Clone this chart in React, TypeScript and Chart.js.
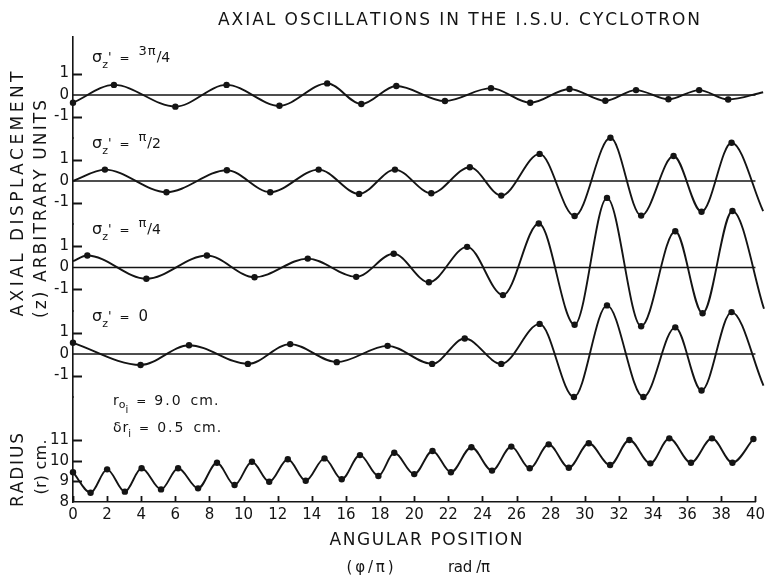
import React, { useEffect, useRef } from 'react';
import { Chart, registerables } from 'chart.js';

Chart.register(...registerables);

const FONT = "'DejaVu Sans', 'Liberation Sans', sans-serif";
const INK = '#141414';

// ---- texts ----
const TITLE = 'AXIAL OSCILLATIONS IN THE I.S.U. CYCLOTRON';
const Y_TITLE_1 = 'AXIAL DISPLACEMENT';
const Y_TITLE_2 = '(z) ARBITRARY UNITS';
const R_TITLE_1 = 'RADIUS';
const R_TITLE_2 = '(r) cm.';
const X_TITLE = 'ANGULAR POSITION';
const X_UNITS_1 = '(φ/π)';
const X_UNITS_2 = 'rad /π';
const SIGMA_LABELS = ['3π/4', 'π/2', 'π/4', '0'];
const R0_VALUE = '9.0';
const DR_VALUE = '0.5';
const UNIT_CM = 'cm.';

// ---- ticks ----
const X_TICKS = [0, 2, 4, 6, 8, 10, 12, 14, 16, 18, 20, 22, 24, 26, 28, 30, 32, 34, 36, 38, 40];
const AXIAL_TICKS = [-1, 0, 1];
const RADIUS_TICKS = [8, 9, 10, 11];

// ---- data: sigma_z' = 3π/4 ----
const PHI_A = [0, 2.4, 6.0, 9.0, 12.1, 14.9, 16.9, 18.95, 21.8, 24.5, 26.8, 29.1, 31.2, 33.0, 34.9, 36.7, 38.4, 40.45];
const Z_A = [-0.36, 0.47, -0.54, 0.47, -0.5, 0.54, -0.42, 0.42, -0.28, 0.32, -0.36, 0.28, -0.27, 0.23, -0.2, 0.23, -0.21, 0.13];

// ---- data: sigma_z' = π/2 ----
const PHI_B = [0, 1.87, 5.48, 9.02, 11.56, 14.4, 16.77, 18.87, 21.0, 23.26, 25.1, 27.35, 29.4, 31.5, 33.3, 35.2, 36.84, 38.6, 40.45];
const Z_B = [0, 0.53, -0.52, 0.5, -0.52, 0.53, -0.6, 0.53, -0.57, 0.64, -0.68, 1.26, -1.63, 2.01, -1.61, 1.16, -1.43, 1.78, -1.4];

// ---- data: sigma_z' = π/4 ----
const PHI_C = [0, 0.84, 4.3, 7.85, 10.64, 13.76, 16.6, 18.8, 20.86, 23.1, 25.2, 27.3, 29.4, 31.3, 33.3, 35.3, 36.9, 38.65, 40.5];
const Z_C = [0.29, 0.55, -0.52, 0.55, -0.45, 0.41, -0.43, 0.63, -0.68, 0.95, -1.27, 2.02, -2.63, 3.2, -2.7, 1.67, -2.1, 2.6, -1.9];

// ---- data: sigma_z' = 0 ----
const PHI_D = [0, 3.96, 6.8, 10.25, 12.73, 15.46, 18.44, 21.05, 22.96, 25.1, 27.35, 29.36, 31.3, 33.43, 35.3, 36.84, 38.6, 40.47];
const Z_D = [0.52, -0.51, 0.41, -0.46, 0.46, -0.38, 0.38, -0.46, 0.72, -0.46, 1.4, -2.0, 2.26, -2.0, 1.24, -1.7, 1.95, -1.47];

// ---- data: radius ----
const PHI_R = [0, 1.03, 2.0, 3.04, 4.02, 5.16, 6.16, 7.33, 8.44, 9.47, 10.49, 11.5, 12.59, 13.64, 14.74, 15.75, 16.82, 17.9, 18.83, 20.0, 21.07, 22.15, 23.35, 24.56, 25.69, 26.77, 27.88, 29.06, 30.23, 31.48, 32.61, 33.84, 34.95, 36.22, 37.45, 38.65, 39.88];
const R_VALUES = [9.44, 8.45, 9.58, 8.5, 9.63, 8.61, 9.63, 8.66, 9.9, 8.82, 9.95, 8.98, 10.07, 9.03, 10.11, 9.1, 10.27, 9.26, 10.38, 9.35, 10.47, 9.44, 10.65, 9.52, 10.68, 9.63, 10.79, 9.66, 10.84, 9.79, 11.0, 9.87, 11.08, 9.9, 11.08, 9.9, 11.05];

const toPoints = (xs: number[], ys: number[]) => xs.map((x, i) => ({ x, y: ys[i] }));

// panels listed top to bottom
const PANELS = [
  { id: 'y1', axial: true, weight: 101, min: -2, max: 2.7, phi: PHI_A, vals: Z_A, label: SIGMA_LABELS[0], startDot: true },
  { id: 'y2', axial: true, weight: 86, min: -2, max: 2, phi: PHI_B, vals: Z_B, label: SIGMA_LABELS[1], startDot: false },
  { id: 'y3', axial: true, weight: 87, min: -2, max: 2, phi: PHI_C, vals: Z_C, label: SIGMA_LABELS[2], startDot: false },
  { id: 'y4', axial: true, weight: 86, min: -2, max: 2, phi: PHI_D, vals: Z_D, label: SIGMA_LABELS[3], startDot: true },
  { id: 'yR', axial: false, weight: 105, min: 8, max: 13.08, phi: PHI_R, vals: R_VALUES, label: '', startDot: true },
];

type Run = { t: string; size: number; dy?: number; gap?: number; ls?: number };

function drawRuns(ctx: CanvasRenderingContext2D, x0: number, y0: number, runs: Run[]) {
  let x = x0;
  ctx.textAlign = 'left';
  ctx.textBaseline = 'alphabetic';
  for (const r of runs) {
    ctx.font = `${r.size}px ${FONT}`;
    const ls = r.ls || 0;
    for (const c of Array.from(r.t)) {
      ctx.fillText(c, x, y0 + (r.dy || 0));
      x += ctx.measureText(c).width + ls;
    }
    x += r.gap || 0;
  }
}

function drawFitted(ctx: CanvasRenderingContext2D, text: string, cx: number, cy: number, length: number, size: number, vertical: boolean) {
  ctx.save();
  ctx.font = `${size}px ${FONT}`;
  ctx.textAlign = 'left';
  ctx.textBaseline = 'alphabetic';
  const chars = Array.from(text);
  const widths = chars.map((c) => ctx.measureText(c).width);
  const total = widths.reduce((a, b) => a + b, 0);
  const gap = chars.length > 1 ? (length - total) / (chars.length - 1) : 0;
  ctx.translate(cx, cy);
  if (vertical) ctx.rotate(-Math.PI / 2);
  const base = vertical ? (size * 0.729) / 2 : 0;
  let x = -length / 2;
  chars.forEach((c, i) => {
    ctx.fillText(c, x, base);
    x += widths[i] + gap;
  });
  ctx.restore();
}

function sigmaRuns(value: string): Run[] {
  const runs: Run[] = [
    { t: 'σ', size: 16 },
    { t: 'z', size: 11, dy: 6 },
    { t: "'", size: 13, dy: -1, gap: 8 },
    { t: '=', size: 12, gap: 9 },
  ];
  const parts = value.split('/');
  if (parts.length === 2) {
    runs.push({ t: parts[0], size: 13, dy: -7, ls: 1 }, { t: '/', size: 14, dy: -1 }, { t: parts[1], size: 14 });
  } else {
    runs.push({ t: value, size: 15 });
  }
  return runs;
}

function drawTickMarks(ctx: CanvasRenderingContext2D, chart: any) {
  const { chartArea, scales } = chart;
  const left = chartArea.left;
  const bottom = chartArea.bottom;
  ctx.save();
  ctx.setLineDash([]);
  ctx.strokeStyle = INK;
  ctx.lineWidth = 1.8;
  ctx.beginPath();
  for (const p of PANELS) {
    const s = scales[p.id];
    const vals = p.axial ? AXIAL_TICKS : RADIUS_TICKS;
    for (const v of vals) {
      if (p.axial && v === 0) continue;
      if (!p.axial && v === RADIUS_TICKS[0]) continue;
      const py = Math.round(s.getPixelForValue(v)) + 0.5;
      ctx.moveTo(left, py);
      ctx.lineTo(left + 9, py);
    }
  }
  const xs = scales.x;
  for (const v of X_TICKS) {
    const px = Math.round(xs.getPixelForValue(v)) + 0.5;
    ctx.moveTo(px, bottom);
    ctx.lineTo(px, bottom - 6);
  }
  ctx.stroke();
  ctx.restore();
}

const decorPlugin = {
  id: 'decor',
  afterDraw(chart: any) {
    const { ctx, chartArea, scales } = chart;
    const { left, top } = chartArea;
    drawTickMarks(ctx, chart);
    ctx.save();
    ctx.fillStyle = INK;
    // titles
    drawFitted(ctx, TITLE, 459, 25, 482, 17, false);
    drawFitted(ctx, Y_TITLE_1, 17, 194, 245, 17, true);
    drawFitted(ctx, Y_TITLE_2, 40, 209, 218, 17, true);
    drawFitted(ctx, R_TITLE_1, 17, 470, 74, 17, true);
    drawFitted(ctx, R_TITLE_2, 40, 467, 55, 16, true);
    drawFitted(ctx, X_TITLE, 426, 545, 193, 17, false);
    drawFitted(ctx, X_UNITS_1, 370, 572, 47, 15, false);
    drawFitted(ctx, X_UNITS_2, 469, 572, 42, 15, false);
    // panel labels
    for (const p of PANELS) {
      if (!p.axial) continue;
      const s = scales[p.id];
      drawRuns(ctx, left + 19, s.getPixelForValue(1.53), sigmaRuns(p.label));
    }
    drawRuns(ctx, left + 40, top + 368, [
      { t: 'r', size: 14 },
      { t: 'o', size: 11, dy: 3 },
      { t: 'i', size: 10, dy: 8, gap: 8 },
      { t: '=', size: 12, gap: 8 },
      { t: R0_VALUE, size: 14, ls: 2, gap: 8 },
      { t: UNIT_CM, size: 14, ls: 1 },
    ]);
    drawRuns(ctx, left + 40, top + 395, [
      { t: 'δ', size: 14, gap: 1 },
      { t: 'r', size: 14 },
      { t: 'i', size: 10, dy: 5, gap: 8 },
      { t: '=', size: 12, gap: 8 },
      { t: DR_VALUE, size: 14, ls: 2, gap: 8 },
      { t: UNIT_CM, size: 14, ls: 1 },
    ]);
    ctx.restore();
  },
};

export default function App() {
  const ref = useRef<HTMLCanvasElement | null>(null);

  useEffect(() => {
    if (!ref.current) return;
    Chart.defaults.font.family = FONT;
    Chart.defaults.color = INK;

    const datasets: any[] = [];
    for (const p of PANELS) {
      if (p.axial) {
        datasets.push({
          data: [{ x: X_TICKS[0], y: 0 }, { x: X_TICKS[X_TICKS.length - 1], y: 0 }],
          yAxisID: p.id,
          borderColor: INK,
          borderWidth: 1.3,
          pointRadius: 0,
          clip: false,
        });
      }
      const startDot = p.startDot;
      datasets.push({
        data: toPoints(p.phi, p.vals),
        yAxisID: p.id,
        borderColor: INK,
        borderWidth: 1.9,
        cubicInterpolationMode: 'monotone',
        pointRadius: (c: any) => (c.dataIndex === 0 && !startDot ? 0 : 3.2),
        pointHoverRadius: 3.2,
        pointBorderWidth: 0,
        pointBackgroundColor: INK,
        clip: false,
      });
    }

    const scales: any = {
      x: {
        type: 'linear',
        min: 0,
        max: 40,
        grid: { display: false, drawTicks: false },
        border: { display: true, color: INK, width: 1.6 },
        ticks: { font: { size: 15, family: FONT }, color: INK, padding: 4, autoSkip: false, maxRotation: 0 },
        afterBuildTicks: (s: any) => {
          s.ticks = X_TICKS.map((v) => ({ value: v }));
        },
        afterFit: (s: any) => {
          s.height = 75;
        },
      },
    };
    // bottom-most first: the last defined left scale is stacked on top
    for (const p of [...PANELS].reverse()) {
      const tickVals = p.axial ? AXIAL_TICKS : RADIUS_TICKS;
      scales[p.id] = {
        type: 'linear',
        position: 'left',
        stack: 'panels',
        stackWeight: p.weight,
        min: p.min,
        max: p.max,
        grid: { display: false, drawTicks: false },
        border: { display: true, color: INK, width: 1.6 },
        ticks: {
          font: { size: 15, family: FONT },
          color: INK,
          padding: 4,
          autoSkip: false,
          callback: (v: any) => String(v),
        },
        afterBuildTicks: (s: any) => {
          s.ticks = tickVals.map((v) => ({ value: v }));
        },
        afterFit: (s: any) => {
          s.width = 73;
        },
      };
    }

    const chart = new Chart(ref.current, {
      type: 'line',
      data: { datasets },
      options: {
        responsive: false,
        animation: false,
        events: [],
        layout: { padding: { top: 37, right: 12, left: 0, bottom: 0 } },
        plugins: { legend: { display: false }, tooltip: { enabled: false }, title: { display: false } },
        scales,
      },
      plugins: [decorPlugin],
    } as any);

    return () => chart.destroy();
  }, []);

  return (
    <div style={{ position: 'absolute', left: 0, top: 0, width: 769, height: 577, background: '#fff' }}>
      <canvas ref={ref} width={769} height={577} style={{ display: 'block' }} />
    </div>
  );
}
